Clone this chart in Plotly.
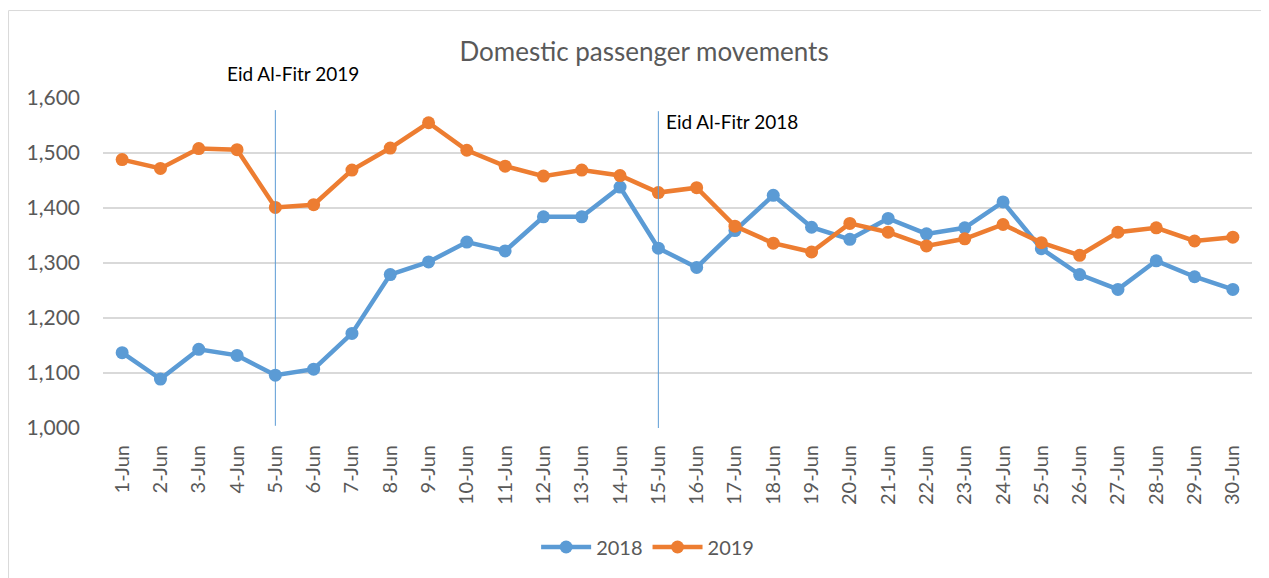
import plotly.graph_objects as go

days = [f"{d}-Jun" for d in range(1, 31)]
vals_2018 = [1137, 1089, 1143, 1132, 1096, 1107, 1172, 1279, 1302, 1338,
             1322, 1384, 1384, 1438, 1327, 1292, 1359, 1423, 1365, 1343,
             1381, 1353, 1364, 1411, 1326, 1279, 1252, 1304, 1275, 1252]
vals_2019 = [1488, 1472, 1508, 1506, 1401, 1406, 1469, 1509, 1555, 1505,
             1476, 1458, 1469, 1459, 1428, 1437, 1367, 1336, 1320, 1372,
             1356, 1331, 1344, 1370, 1337, 1314, 1356, 1364, 1340, 1347]
series_names = ["2018", "2019"]
colors = ["#5B9BD5", "#ED7D31"]
y_ticks = [1000, 1100, 1200, 1300, 1400, 1500, 1600]
eid_2019_day = "5-Jun"
eid_2018_day = "15-Jun"

FONT = "Lato"
GREY = "#595959"

fig = go.Figure()
for name, vals, col in zip(series_names, [vals_2018, vals_2019], colors):
    fig.add_trace(go.Scatter(
        x=days, y=vals, name=name, mode="lines+markers",
        line=dict(color=col, width=4.5),
        marker=dict(color=col, size=13),
    ))

i19 = days.index(eid_2019_day)
i18 = days.index(eid_2018_day)
shapes = [
    dict(type="line", xref="x", yref="y", x0=i19, x1=i19, y0=1004, y1=1578,
         line=dict(color="#5B9BD5", width=1)),
    dict(type="line", xref="x", yref="y", x0=i18, x1=i18, y0=1000, y1=1576,
         line=dict(color="#5B9BD5", width=1)),
    dict(type="rect", xref="paper", yref="paper", x0=-0.0822, x1=1.05,
         y0=-0.6, y1=1.265, line=dict(color="#D9D9D9", width=1),
         fillcolor="rgba(0,0,0,0)", layer="below"),
]

annotations = [
    dict(text="Eid Al-Fitr 2019", x=eid_2019_day, xref="x", yref="paper", y=1.075,
         xanchor="center", yanchor="middle", xshift=18, showarrow=False,
         font=dict(family=FONT, size=19, color="#000000")),
    dict(text="Eid Al-Fitr 2018", x=eid_2018_day, xref="x", yref="paper", y=0.930,
         xanchor="left", yanchor="middle", xshift=6, showarrow=False,
         font=dict(family=FONT, size=19, color="#000000")),
]

fig.update_layout(
    width=1261, height=570,
    paper_bgcolor="white", plot_bgcolor="white",
    margin=dict(l=95, r=17, t=90, b=150),
    title=dict(text="Domestic passenger movements", x=0.5044, xanchor="center",
               y=0.9233, yanchor="middle",
               font=dict(family=FONT, size=26, color=GREY)),
    xaxis=dict(type="category", range=[-0.5, 29.5], tickangle=-90,
               showgrid=False, showline=False, zeroline=False,
               tickfont=dict(family=FONT, size=20, color=GREY),
               ticks="", ticklabelstandoff=12),
    yaxis=dict(range=[1000, 1600], tickvals=y_ticks, tickformat=",",
               showgrid=True, gridcolor="#D9D9D9", gridwidth=1.5,
               zeroline=False, showline=False,
               tickfont=dict(family=FONT, size=21, color=GREY),
               ticks="", ticklabelstandoff=22),
    legend=dict(orientation="h", x=0.474, xanchor="center", y=-0.3606, yanchor="middle",
                font=dict(family=FONT, size=20, color=GREY), itemwidth=50),
    shapes=shapes,
    annotations=annotations,
)

fig.write_html("out.html")
